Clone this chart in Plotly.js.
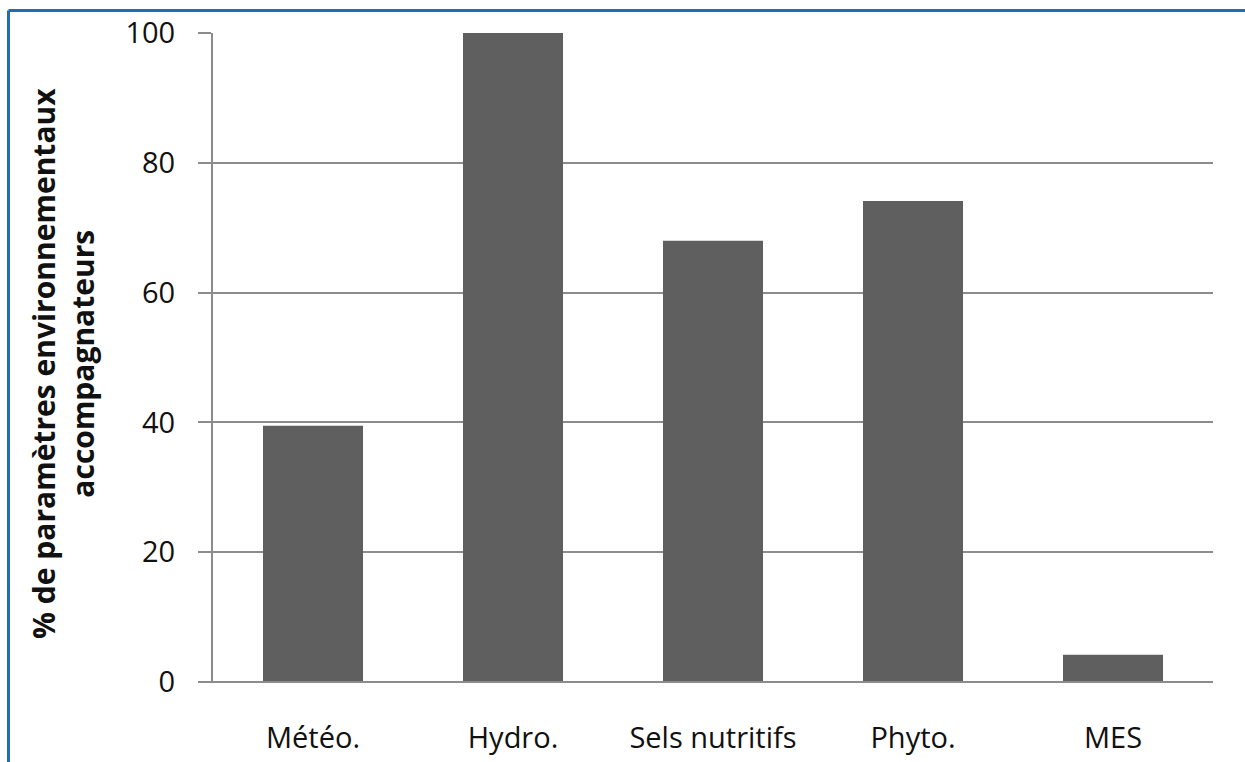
<!DOCTYPE html>
<html>
<head>
<meta charset="utf-8">
<script src="https://cdn.plot.ly/plotly-3.0.1.min.js"></script>
<style>html,body{margin:0;padding:0;background:#fff;}</style>
</head>
<body>
<div id="chart" style="width:1245px;height:762px;"></div>
<script>
const categories = ["Météo.", "Hydro.", "Sels nutritifs", "Phyto.", "MES"];
const values = [39.5, 100, 68.0, 74.1, 4.2];
const yTicks = [0, 20, 40, 60, 80, 100];
const yTitle = "% de paramètres environnementaux<br>accompagnateurs";

const trace = {
  type: "bar",
  x: categories,
  y: values,
  marker: {color: "#5f5f5f", line: {width: 0}},
  hoverinfo: "x+y"
};

const layout = {
  width: 1245,
  height: 762,
  margin: {l: 213, r: 32, t: 33, b: 80},
  paper_bgcolor: "#ffffff",
  plot_bgcolor: "#ffffff",
  showlegend: false,
  bargap: 0.5,
  font: {family: "Open Sans, sans-serif", color: "#111"},
  xaxis: {
    type: "category",
    showgrid: false,
    showline: false,
    ticks: "",
    tickfont: {size: 29, color: "#111"},
    ticklabelstandoff: 36,
    zeroline: false
  },
  yaxis: {
    range: [0, 100],
    tickvals: yTicks,
    ticktext: yTicks.map(String),
    showgrid: true,
    gridcolor: "#8c8c8c",
    gridwidth: 2,
    showline: true,
    linecolor: "#8c8c8c",
    linewidth: 2,
    ticks: "outside",
    ticklen: 13,
    tickwidth: 2,
    tickcolor: "#8c8c8c",
    tickfont: {size: 29, color: "#111"},
    ticklabelstandoff: 17,
    zeroline: false,
    fixedrange: true
  },
  annotations: [{
    xref: "paper", yref: "paper",
    x: -0.15, y: 0.49,
    xanchor: "center", yanchor: "middle",
    textangle: -90,
    showarrow: false,
    text: yTitle,
    font: {size: 30, color: "#111", weight: "bold"}
  }],
  shapes: [
    {type: "line", xref: "paper", yref: "paper", x0: 0, x1: 1, y0: 0, y1: 0,
     line: {color: "#8c8c8c", width: 2}, layer: "above"},
    {type: "line", xref: "paper", yref: "paper", x0: -0.013, x1: 0, y0: 0, y1: 0,
     line: {color: "#8c8c8c", width: 2}},
    {type: "line", xref: "paper", yref: "paper", x0: -0.2045, x1: 1.05, y0: 1.0347, y1: 1.0347,
     line: {color: "#1f6fb0", width: 3}},
    {type: "line", xref: "paper", yref: "paper", x0: -0.2045, x1: -0.2045, y0: 1.0347, y1: -0.2,
     line: {color: "#1f6fb0", width: 3}}
  ]
};

Plotly.newPlot("chart", [trace], layout, {displayModeBar: false, staticPlot: true});
</script>
</body>
</html>
